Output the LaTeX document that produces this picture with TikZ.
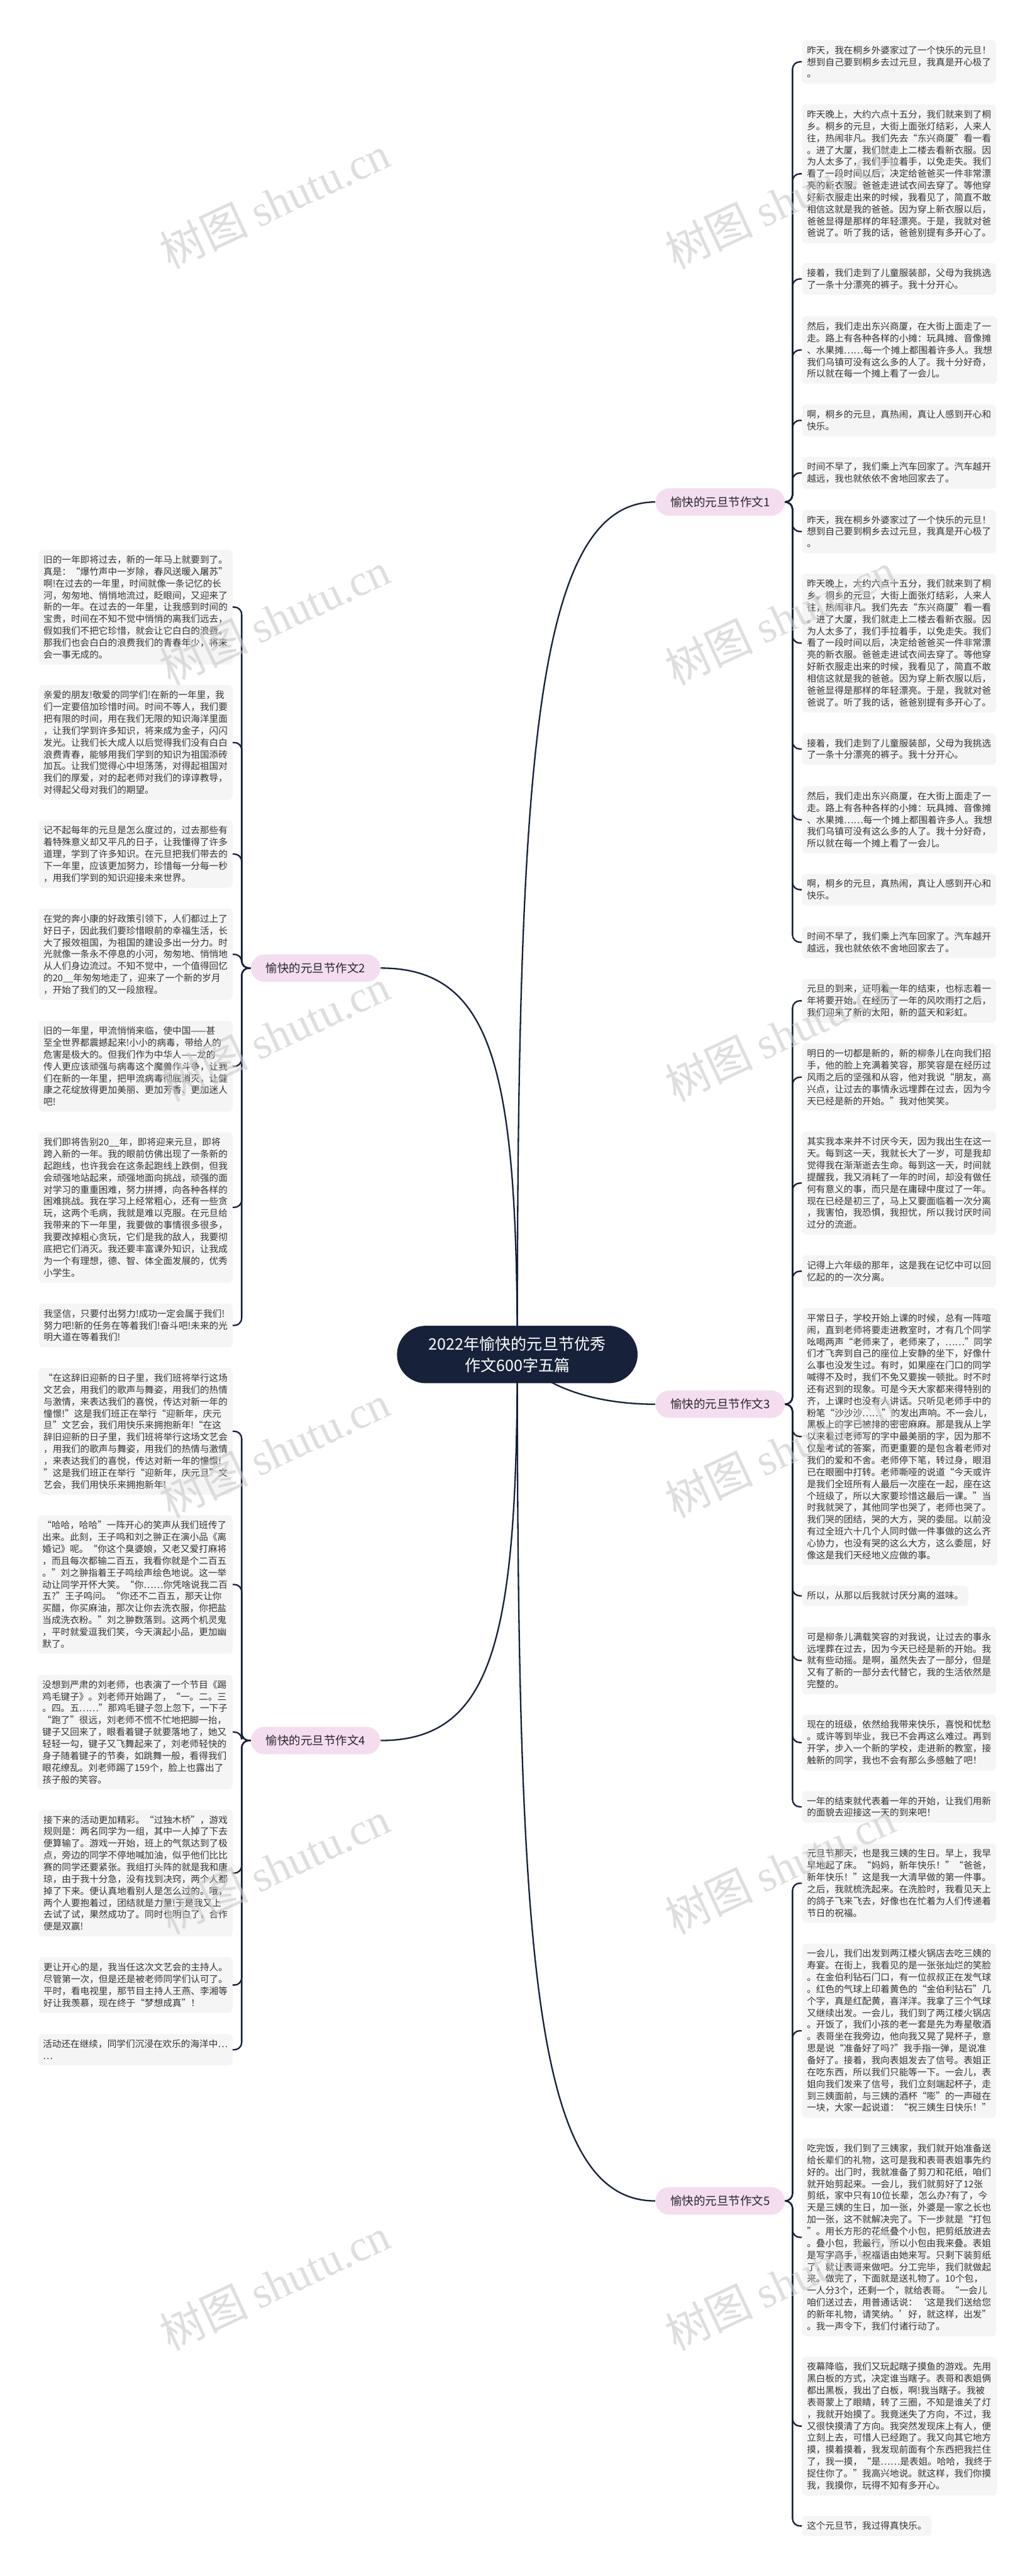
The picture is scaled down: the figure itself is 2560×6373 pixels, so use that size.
\documentclass[tikz,border=0pt]{standalone}
\usepackage{fontspec}
\setmainfont{Noto Sans CJK SC}
\newfontfamily\markfont{Liberation Serif}
\usetikzlibrary{calc}
\usetikzlibrary{backgrounds}
\definecolor{rootblue}{HTML}{17223A}
\definecolor{branchpink}{HTML}{F5DDF0}
\definecolor{leafgray}{HTML}{F5F5F5}
\definecolor{leaftext}{HTML}{333333}
\definecolor{markgray}{HTML}{C8C8C8}

\begin{document}
\begin{tikzpicture}[
  x=0.01cm, y=-0.01cm,
  root/.style = {fill=rootblue, text=white, rounded corners=0.71cm, minimum width=5.95cm, minimum height=1.42cm, inner sep=0pt, align=center, font=\fontsize{11.1pt}{14.8pt}\selectfont},
  branch/.style = {fill=branchpink, text=black!85, rounded corners=0.34cm, minimum width=3.2cm, minimum height=0.68cm, inner sep=0pt, font=\fontsize{8.2pt}{10pt}\selectfont},
  leaf/.style = {fill=leafgray, text=leaftext, rounded corners=0.1cm, inner xsep=0.12cm, inner ysep=0.14cm, align=left, font=\fontsize{6.48pt}{8.34pt}\selectfont},
  rleaf/.style = {leaf, anchor=west},
  lleaf/.style = {leaf, anchor=east},
  link/.style = {draw=rootblue, line width=0.036cm},
  twig/.style = {link, rounded corners=0.18cm},
  wmark/.style = {text=markgray, opacity=0.6, rotate=25, font=\fontsize{31pt}{31pt}\selectfont}
  ]
	\useasboundingbox (0,0) rectangle (2560,6373);

	\coordinate (j1) at (1961,1242);
	\coordinate (j2) at (598,2395);
	\coordinate (j3) at (1961,3474);
	\coordinate (j4) at (598,4306);
	\coordinate (j5) at (1961,5445);

	\node[root] (root) at (1280,3351) {2022年愉快的元旦节优秀\\作文600字五篇};

	\node[branch] (b1) at (1782,1242) {愉快的元旦节作文1};
	\node[branch] (b2) at (781,2395) {愉快的元旦节作文2};
	\node[branch] (b3) at (1782,3474) {愉快的元旦节作文3};
	\node[branch] (b4) at (781,4306) {愉快的元旦节作文4};
	\node[branch] (b5) at (1782,5445) {愉快的元旦节作文5};

	% essay 1
	\node[rleaf] (r1a) at (1984,153) {昨天，我在桐乡外婆家过了一个快乐的元旦！\\想到自己要到桐乡去过元旦，我真是开心极了\\。};
	\node[rleaf] (r1b) at (1984,430) {昨天晚上，大约六点十五分，我们就来到了桐\\乡。桐乡的元旦，大街上面张灯结彩，人来人\\往，热闹非凡。我们先去“东兴商厦”看一看\\。进了大厦，我们就走上二楼去看新衣服。因\\为人太多了，我们手拉着手，以免走失。我们\\看了一段时间以后，决定给爸爸买一件非常漂\\亮的新衣服。爸爸走进试衣间去穿了。等他穿\\好新衣服走出来的时候，我看见了，简直不敢\\相信这就是我的爸爸。因为穿上新衣服以后，\\爸爸显得是那样的年轻漂亮。于是，我就对爸\\爸说了。听了我的话，爸爸别提有多开心了。};
	\node[rleaf] (r1c) at (1984,690) {接着，我们走到了儿童服装部，父母为我挑选\\了一条十分漂亮的裤子。我十分开心。};
	\node[rleaf] (r1d) at (1984,866) {然后，我们走出东兴商厦，在大街上面走了一\\走。路上有各种各样的小摊：玩具摊、音像摊\\、水果摊……每一个摊上都围着许多人。我想\\我们乌镇可没有这么多的人了。我十分好奇，\\所以就在每一个摊上看了一会儿。};
	\node[rleaf] (r1e) at (1984,1040) {啊，桐乡的元旦，真热闹，真让人感到开心和\\快乐。};
	\node[rleaf] (r1f) at (1984,1170) {时间不早了，我们乘上汽车回家了。汽车越开\\越远，我也就依依不舍地回家去了。};
	\node[rleaf] (r1g) at (1984,1315) {昨天，我在桐乡外婆家过了一个快乐的元旦！\\想到自己要到桐乡去过元旦，我真是开心极了\\。};
	\node[rleaf] (r1h) at (1984,1591) {昨天晚上，大约六点十五分，我们就来到了桐\\乡。桐乡的元旦，大街上面张灯结彩，人来人\\往，热闹非凡。我们先去“东兴商厦”看一看\\。进了大厦，我们就走上二楼去看新衣服。因\\为人太多了，我们手拉着手，以免走失。我们\\看了一段时间以后，决定给爸爸买一件非常漂\\亮的新衣服。爸爸走进试衣间去穿了。等他穿\\好新衣服走出来的时候，我看见了，简直不敢\\相信这就是我的爸爸。因为穿上新衣服以后，\\爸爸显得是那样的年轻漂亮。于是，我就对爸\\爸说了。听了我的话，爸爸别提有多开心了。};
	\node[rleaf] (r1i) at (1984,1853) {接着，我们走到了儿童服装部，父母为我挑选\\了一条十分漂亮的裤子。我十分开心。};
	\node[rleaf] (r1j) at (1984,2028) {然后，我们走出东兴商厦，在大街上面走了一\\走。路上有各种各样的小摊：玩具摊、音像摊\\、水果摊……每一个摊上都围着许多人。我想\\我们乌镇可没有这么多的人了。我十分好奇，\\所以就在每一个摊上看了一会儿。};
	\node[rleaf] (r1k) at (1984,2201) {啊，桐乡的元旦，真热闹，真让人感到开心和\\快乐。};
	\node[rleaf] (r1l) at (1984,2331) {时间不早了，我们乘上汽车回家了。汽车越开\\越远，我也就依依不舍地回家去了。};

	% essay 3
	\node[rleaf] (r3a) at (1984,2476) {元旦的到来，证明着一年的结束，也标志着一\\年将要开始。在经历了一年的风吹雨打之后，\\我们迎来了新的太阳，新的蓝天和彩虹。};
	\node[rleaf] (r3b) at (1984,2665) {明日的一切都是新的，新的柳条儿在向我们招\\手，他的脸上充满着笑容，那笑容是在经历过\\风雨之后的坚强和从容，他对我说“朋友，高\\兴点，让过去的事情永远埋葬在过去，因为今\\天已经是新的开始。”我对他笑笑。};
	\node[rleaf] (r3c) at (1984,2927) {其实我本来并不讨厌今天，因为我出生在这一\\天。每到这一天，我就长大了一岁，可是我却\\觉得我在渐渐逝去生命。每到这一天，时间就\\提醒我，我又消耗了一年的时间，却没有做任\\何有意义的事，而只是在庸碌中度过了一年。\\现在已经是初三了，马上又要面临着一次分离\\，我害怕，我恐惧，我担忧，所以我讨厌时间\\过分的流逝。};
	\node[rleaf] (r3d) at (1984,3145) {记得上六年级的那年，这是我在记忆中可以回\\忆起的的一次分离。};
	\node[rleaf] (r3e) at (1984,3554) {平常日子，学校开始上课的时候，总有一阵喧\\闹，直到老师将要走进教室时，才有几个同学\\吆喝两声“老师来了，老师来了，……”同学\\们才飞奔到自己的座位上安静的坐下，好像什\\么事也没发生过。有时，如果座在门口的同学\\喊得不及时，我们不免又要挨一顿批。时不时\\还有迟到的现象。可是今天大家都来得特别的\\齐，上课时也没有人讲话。只听见老师手中的\\粉笔“沙沙沙……”的发出声响。不一会儿，\\黑板上的字已被排的密密麻麻。那是我从上学\\以来看过老师写的字中最美丽的字，因为那不\\仅是考试的答案，而更重要的是包含着老师对\\我们的爱和不舍。老师停下笔，转过身，眼泪\\已在眼圈中打转。老师嘶哑的说道“今天或许\\是我们全班所有人最后一次座在一起，座在这\\个班级了，所以大家要珍惜这最后一课。”当\\时我就哭了，其他同学也哭了，老师也哭了。\\我们哭的团结，哭的大方，哭的委屈。以前没\\有过全班六十几个人同时做一件事做的这么齐\\心协力，也没有哭的这么大方，这么委屈，好\\像这是我们天经地义应做的事。};
	\node[rleaf] (r3f) at (1984,3948) {所以，从那以后我就讨厌分离的滋味。};
	\node[rleaf] (r3g) at (1984,4108) {可是柳条儿满载笑容的对我说，让过去的事永\\远埋葬在过去，因为今天已经是新的开始。我\\就有些动摇。是啊，虽然失去了一部分，但是\\又有了新的一部分去代替它，我的生活依然是\\完整的。};
	\node[rleaf] (r3h) at (1984,4311) {现在的班级，依然给我带来快乐，喜悦和忧愁\\。或许等到毕业，我已不会再这么难过。再到\\开学，步入一个新的学校，走进新的教室，接\\触新的同学，我也不会有那么多感触了吧！};
	\node[rleaf] (r3i) at (1984,4470) {一年的结束就代表着一年的开始，让我们用新\\的面貌去迎接这一天的到来吧！};

	% essay 5
	\node[rleaf] (r5a) at (1984,4659) {元旦节那天，也是我三姨的生日。早上，我早\\早地起了床。“妈妈，新年快乐！”“爸爸，\\新年快乐！”这是我一大清早做的第一件事。\\之后，我就梳洗起来。在洗脸时，我看见天上\\的鸽子飞来飞去，好像也在忙着为人们传递着\\节日的祝福。};
	\node[rleaf] (r5b) at (1984,5024) {一会儿，我们出发到两江楼火锅店去吃三姨的\\寿宴。在街上，我看见的是一张张灿烂的笑脸\\。在金伯利钻石门口，有一位叔叔正在发气球\\。红色的气球上印着黄色的“金伯利钻石”几\\个字，真是红配黄，喜洋洋。我拿了三个气球\\又继续出发。一会儿，我们到了两江楼火锅店\\。开饭了，我们小孩的老一套是先为寿星敬酒\\。表哥坐在我旁边，他向我又晃了晃杯子，意\\思是说“准备好了吗?”我手指一弹，是说准\\备好了。接着，我向表姐发去了信号。表姐正\\在吃东西，所以我们只能等一下。一会儿，表\\姐向我们发来了信号，我们立刻端起杯子，走\\到三姨面前，与三姨的酒杯“嘭”的一声碰在\\一块，大家一起说道：“祝三姨生日快乐！”};
	\node[rleaf] (r5c) at (1984,5535) {吃完饭，我们到了三姨家，我们就开始准备送\\给长辈们的礼物，这可是我和表哥表姐事先约\\好的。出门时，我就准备了剪刀和花纸，咱们\\就开始剪起来。一会儿，我们就剪好了12张\\剪纸，家中只有10位长辈，怎么办?有了，今\\天是三姨的生日，加一张，外婆是一家之长也\\加一张，这不就解决完了。下一步就是“打包\\”。用长方形的花纸叠个小包，把剪纸放进去\\。叠小包，我最行，所以小包由我来叠。表姐\\是写字高手，祝福语由她来写。只剩下装剪纸\\了，就让表哥来做吧。分工完毕，我们就做起\\来。做完了，下面就是送礼物了。10个包，\\一人分3个，还剩一个，就给表哥。“一会儿\\咱们送过去，用普通话说：‘这是我们送给您\\的新年礼物，请笑纳。’好，就这样，出发”\\。我一声令下，我们付诸行动了。};
	\node[rleaf] (r5d) at (1984,6002) {夜幕降临，我们又玩起瞎子摸鱼的游戏。先用\\黑白板的方式，决定谁当瞎子。表哥和表姐俩\\都出黑板，我出了白板，啊!我当瞎子。我被\\表哥蒙上了眼睛，转了三圈，不知是谁关了灯\\，我就开始摸了。我竟迷失了方向，不过，我\\又很快摸清了方向。我突然发现床上有人，便\\立刻上去，可惜人已经跑了。我又向其它地方\\摸，摸着摸着，我发现前面有个东西把我拦住\\了，我一摸，“是……是表姐。哈哈，我终于\\捉住你了。”我高兴地说。就这样，我们你摸\\我，我摸你，玩得不知有多开心。};
	\node[rleaf] (r5e) at (1984,6249) {这个元旦节，我过得真快乐。};

	% essay 2
	\node[lleaf] (l2a) at (576,1502) {旧的一年即将过去，新的一年马上就要到了。\\真是：“爆竹声中一岁除，春风送暖入屠苏”\\啊!在过去的一年里，时间就像一条记忆的长\\河，匆匆地、悄悄地流过，眨眼间，又迎来了\\新的一年。在过去的一年里，让我感到时间的\\宝贵，时间在不知不觉中悄悄的离我们远去，\\假如我们不把它珍惜，就会让它白白的浪费。\\那我们也会白白的浪费我们的青春年少，将来\\会一事无成的。};
	\node[lleaf] (l2b) at (576,1837) {亲爱的朋友!敬爱的同学们!在新的一年里，我\\们一定要倍加珍惜时间。时间不等人，我们要\\把有限的时间，用在我们无限的知识海洋里面\\，让我们学到许多知识，将来成为金子，闪闪\\发光。让我们长大成人以后觉得我们没有白白\\浪费青春，能够用我们学到的知识为祖国添砖\\加瓦。让我们觉得心中坦荡荡，对得起祖国对\\我们的厚爱，对的起老师对我们的谆谆教导，\\对得起父母对我们的期望。};
	\node[lleaf] (l2c) at (576,2113) {记不起每年的元旦是怎么度过的，过去那些有\\着特殊意义却又平凡的日子，让我懂得了许多\\道理，学到了许多知识。在元旦把我们带去的\\下一年里，应该更加努力，珍惜每一分每一秒\\，用我们学到的知识迎接未来世界。};
	\node[lleaf] (l2d) at (576,2361) {在党的奔小康的好政策引领下，人们都过上了\\好日子，因此我们要珍惜眼前的幸福生活，长\\大了报效祖国，为祖国的建设多出一分力。时\\光就像一条永不停息的小河，匆匆地、悄悄地\\从人们身边流过。不知不觉中，一个值得回忆\\的20\_\_年匆匆地走了，迎来了一个新的岁月\\，开始了我们的又一段旅程。};
	\node[lleaf] (l2e) at (576,2638) {旧的一年里，甲流悄悄来临，使中国——甚\\至全世界都震撼起来!小小的病毒，带给人的\\危害是极大的。但我们作为中华人——龙的\\传人更应该顽强与病毒这个魔兽作斗争，让我\\们在新的一年里，把甲流病毒彻底消灭，让健\\康之花绽放得更加美丽、更加芳香、更加迷人\\吧!};
	\node[lleaf] (l2f) at (576,2987) {我们即将告别20\_\_年，即将迎来元旦，即将\\跨入新的一年。我的眼前仿佛出现了一条新的\\起跑线，也许我会在这条起跑线上跌倒，但我\\会顽强地站起来，顽强地面向挑战，顽强的面\\对学习的重重困难，努力拼搏，向各种各样的\\困难挑战。我在学习上经常粗心，还有一些贪\\玩，这两个毛病，我就是难以克服。在元旦给\\我带来的下一年里，我要做的事情很多很多，\\我要改掉粗心贪玩，它们是我的敌人，我要彻\\底把它们消灭。我还要丰富课外知识，让我成\\为一个有理想，德、智、体全面发展的，优秀\\小学生。};
	\node[lleaf] (l2g) at (576,3279) {我坚信，只要付出努力!成功一定会属于我们!\\努力吧!新的任务在等着我们!奋斗吧!未来的光\\明大道在等着我们!};

	% essay 4
	\node[lleaf] (l4a) at (576,3541) {“在这辞旧迎新的日子里，我们班将举行这场\\文艺会，用我们的歌声与舞姿，用我们的热情\\与激情，来表达我们的喜悦，传达对新一年的\\憧憬!”这是我们班正在举行“迎新年，庆元\\旦”文艺会，我们用快乐来拥抱新年!“在这\\辞旧迎新的日子里，我们班将举行这场文艺会\\，用我们的歌声与舞姿，用我们的热情与激情\\，来表达我们的喜悦，传达对新一年的憧憬!\\”这是我们班正在举行“迎新年，庆元旦”文\\艺会，我们用快乐来拥抱新年!};
	\node[lleaf] (l4b) at (576,3920) {“哈哈，哈哈”一阵开心的笑声从我们班传了\\出来。此刻，王子鸣和刘之翀正在演小品《离\\婚记》呢。“你这个臭婆娘，又老又爱打麻将\\，而且每次都输二百五，我看你就是个二百五\\。”刘之翀指着王子鸣绘声绘色地说。这一举\\动让同学开怀大笑。“你……你凭啥说我二百\\五?”王子鸣问。“你还不二百五，那天让你\\买醋，你买麻油，那次让你去洗衣服，你把盐\\当成洗衣粉。”刘之翀数落到。这两个机灵鬼\\，平时就爱逗我们笑，今天演起小品，更加幽\\默了。};
	\node[lleaf] (l4c) at (576,4285) {没想到严肃的刘老师，也表演了一个节目《踢\\鸡毛键子》。刘老师开始踢了，“一。二。三\\。四。五……”那鸡毛键子忽上忽下，一下子\\“跑了”很远，刘老师不慌不忙地把脚一抬，\\键子又回来了，眼看着键子就要落地了，她又\\轻轻一勾，键子又飞舞起来了，刘老师轻快的\\身子随着键子的节奏，如跳舞一般，看得我们\\眼花缭乱。刘老师踢了159个，脸上也露出了\\孩子般的笑容。};
	\node[lleaf] (l4d) at (576,4634) {接下来的活动更加精彩。“过独木桥”，游戏\\规则是：两名同学为一组，其中一人掉了下去\\便算输了。游戏一开始，班上的气氛达到了极\\点，旁边的同学不停地喊加油，似乎他们比比\\赛的同学还要紧张。我组打头阵的就是我和唐\\琼，由于我十分急，没有找到决窍，两个人都\\掉了下来。便认真地看别人是怎么过的。哦，\\两个人要抱着过，团结就是力量!于是我又上\\去试了试，果然成功了。同时也明白了，合作\\便是双赢!};
	\node[lleaf] (l4e) at (576,4911) {更让开心的是，我当任这次文艺会的主持人。\\尽管第一次，但是还是被老师同学们认可了。\\平时，看电视里，那节目主持人王燕、李湘等\\好让我羡慕，现在终于“梦想成真”！};
	\node[lleaf] (l4f) at (576,5071) {活动还在继续，同学们沉浸在欢乐的海洋中…\\…};

	\foreach \leaf in {r1a,r1b,r1c,r1d,r1e,r1f,r1g,r1h,r1i,r1j,r1k,r1l}
		\draw[twig] (b1.east) -- (j1) |- (\leaf.west);
	\foreach \leaf in {r3a,r3b,r3c,r3d,r3e,r3f,r3g,r3h,r3i}
		\draw[twig] (b3.east) -- (j3) |- (\leaf.west);
	\foreach \leaf in {r5a,r5b,r5c,r5d,r5e}
		\draw[twig] (b5.east) -- (j5) |- (\leaf.west);
	\foreach \leaf in {l2a,l2b,l2c,l2d,l2e,l2f,l2g}
		\draw[twig] (b2.west) -- (j2) |- (\leaf.east);
	\foreach \leaf in {l4a,l4b,l4c,l4d,l4e,l4f}
		\draw[twig] (b4.west) -- (j4) |- (\leaf.east);

	\begin{scope}[on background layer]
		\fill[white] (0,0) rectangle (2560,6373);
		\draw[link] (root.center) .. controls +(0,-1450) and +(-300,0) .. (b1.west);
		\draw[link] (root.center) .. controls +(0,-700) and +(280,0) .. (b2.east);
		\draw[link] (root.center) .. controls +(60,80) and +(-150,0) .. (b3.west);
		\draw[link] (root.center) .. controls +(0,700) and +(280,0) .. (b4.east);
		\draw[link] (root.center) .. controls +(0,1500) and +(-300,0) .. (b5.west);
	\end{scope}

	% watermark
	\foreach \row [count=\k] in {500,1530,2560,3590,4620,5650} {
		\node[wmark] (wl\k) at (680,\row) {树图 {\markfont shutu.cn}};
		\node[wmark] (wr\k) at (1930,\row) {树图 {\markfont shutu.cn}};
	}

\end{tikzpicture}
\end{document}
